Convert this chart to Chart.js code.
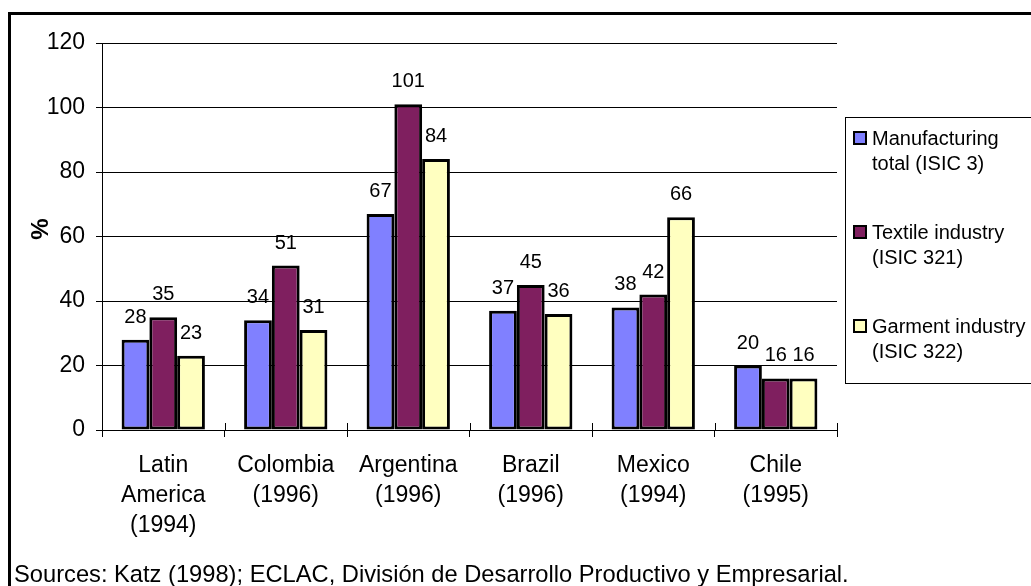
<!DOCTYPE html>
<html>
<head>
<meta charset="utf-8">
<script src="https://cdn.jsdelivr.net/npm/chart.js@4.4.1/dist/chart.umd.min.js"></script>
<style>
  html, body { margin: 0; padding: 0; background: #fff; }
  #wrap { width: 1031px; height: 586px; position: relative; }
</style>
</head>
<body>
<div id="wrap"><canvas id="c" width="1031" height="586"></canvas></div>
<script>
// Countries (and reference years) on the category axis
const categories = [
  ["Latin", "America", "(1994)"],
  ["Colombia", "(1996)"],
  ["Argentina", "(1996)"],
  ["Brazil", "(1996)"],
  ["Mexico", "(1994)"],
  ["Chile", "(1995)"]
];

// Percent values per series
const manufacturingTotal = [28, 34, 67, 37, 38, 20];
const textileIndustry    = [35, 51, 101, 45, 42, 16];
const garmentIndustry    = [23, 31, 84, 36, 66, 16];

// Legend entries (two lines each)
const seriesNames = [
  ["Manufacturing", "total (ISIC 3)"],
  ["Textile industry", "(ISIC 321)"],
  ["Garment industry", "(ISIC 322)"]
];

// Value axis
const yMin = 0;
const yMax = 120;
const yStep = 20;
const yTitle = "%";

const sourceNote = "Sources: Katz (1998); ECLAC, División de Desarrollo Productivo y Empresarial.";

const FONT = "'Liberation Sans', Arial, Helvetica, sans-serif";
const seriesColors = ["#8080ff", "#7f1f5f", "#ffffc0"];

// White page, outer frame, value title and source line
const framePlugin = {
  id: 'frame',
  beforeDraw(chart) {
    const ctx = chart.ctx;
    ctx.save();
    ctx.fillStyle = '#fff';
    ctx.fillRect(0, 0, chart.width, chart.height);
    ctx.restore();
  },
  afterDraw(chart) {
    const ctx = chart.ctx;
    ctx.save();
    ctx.strokeStyle = '#000';
    ctx.lineWidth = 3;
    ctx.strokeRect(9.5, 13.5, 1200, 800);

    ctx.fillStyle = '#000';
    ctx.font = "23.7px " + FONT;
    ctx.textAlign = 'left';
    ctx.textBaseline = 'alphabetic';
    ctx.fillText(sourceNote, 14, 582);

    ctx.translate(41, 229);
    ctx.rotate(-Math.PI / 2);
    ctx.font = "bold 24px " + FONT;
    ctx.textAlign = 'center';
    ctx.textBaseline = 'middle';
    ctx.fillText(yTitle, 0, 0);
    ctx.restore();
  }
};

// Short tick marks crossing the category axis, inside the plot
const crossTickPlugin = {
  id: 'crossTicks',
  afterDraw(chart) {
    const xs = chart.scales.x;
    const ctx = chart.ctx;
    const n = categories.length;
    const w = (xs.right - xs.left) / n;
    ctx.save();
    ctx.strokeStyle = '#000';
    ctx.lineWidth = 1;
    ctx.beginPath();
    for (let i = 1; i <= n; i++) {
      const x = Math.round(xs.left + i * w) + 0.5;
      ctx.moveTo(x, chart.chartArea.bottom - 7);
      ctx.lineTo(x, chart.chartArea.bottom);
    }
    ctx.stroke();
    ctx.restore();
  }
};

// Value labels above each bar
const valueLabelPlugin = {
  id: 'valueLabels',
  afterDatasetsDraw(chart) {
    const ctx = chart.ctx;
    ctx.save();
    ctx.fillStyle = '#000';
    ctx.font = "20px " + FONT;
    ctx.textAlign = 'center';
    ctx.textBaseline = 'alphabetic';
    chart.data.datasets.forEach((ds, di) => {
      const meta = chart.getDatasetMeta(di);
      meta.data.forEach((bar, i) => {
        ctx.fillText(String(ds.data[i]), bar.x, bar.y - 17);
      });
    });
    ctx.restore();
  }
};

// Boxed legend on the right
const legendBoxPlugin = {
  id: 'legendBox',
  afterDraw(chart) {
    const ctx = chart.ctx;
    ctx.save();
    ctx.strokeStyle = '#000';
    ctx.lineWidth = 1;
    ctx.strokeRect(845.5, 117.5, 300, 266);
    ctx.font = "20px " + FONT;
    ctx.textAlign = 'left';
    ctx.textBaseline = 'alphabetic';
    const baselines = [145, 239, 333];
    chart.data.datasets.forEach((ds, i) => {
      const b = baselines[i];
      ctx.fillStyle = ds.backgroundColor;
      ctx.fillRect(854, b - 13, 12, 12);
      ctx.lineWidth = 2;
      ctx.strokeStyle = '#000';
      ctx.strokeRect(854, b - 13, 12, 12);
      ctx.fillStyle = '#000';
      ctx.fillText(seriesNames[i][0], 872, b);
      ctx.fillText(seriesNames[i][1], 872, b + 25);
    });
    ctx.restore();
  }
};

const datasets = [manufacturingTotal, textileIndustry, garmentIndustry].map((vals, i) => ({
  label: seriesNames[i].join(' '),
  data: vals,
  backgroundColor: seriesColors[i],
  borderColor: '#000',
  borderWidth: 3,
  borderSkipped: false,
  categoryPercentage: 0.68,
  barPercentage: 1.0
}));

new Chart(document.getElementById('c'), {
  type: 'bar',
  data: { labels: categories, datasets },
  options: {
    responsive: false,
    animation: false,
    devicePixelRatio: 1,
    layout: { padding: { top: 43, right: 194, left: 0, bottom: 0 } },
    plugins: {
      legend: { display: false },
      tooltip: { enabled: false },
      title: { display: false }
    },
    scales: {
      x: {
        offset: true,
        grid: {
          offset: true,
          drawOnChartArea: false,
          drawTicks: true,
          tickLength: 7,
          color: '#000',
          lineWidth: 1
        },
        border: { color: '#000', width: 1 },
        ticks: {
          color: '#000',
          font: { family: FONT, size: 23, lineHeight: 1.3 },
          padding: 14,
          maxRotation: 0,
          autoSkip: false
        },
        afterFit(s) { s.height = 156; }
      },
      y: {
        min: yMin,
        max: yMax,
        grid: { color: '#000', lineWidth: 1, tickLength: 6 },
        border: { color: '#000', width: 1 },
        ticks: {
          stepSize: yStep,
          color: '#000',
          padding: 11,
          font: { family: FONT, size: 23 }
        },
        afterFit(s) { s.width = 102; }
      }
    }
  },
  plugins: [framePlugin, crossTickPlugin, valueLabelPlugin, legendBoxPlugin]
});
</script>
</body>
</html>
